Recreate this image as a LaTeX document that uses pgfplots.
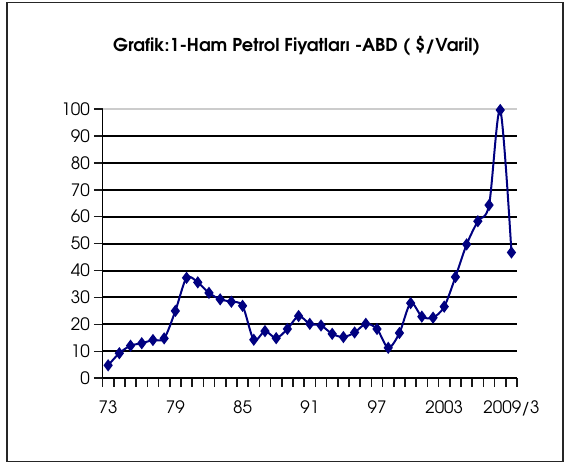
\documentclass[border=0pt]{standalone}
\usepackage{fontspec}
\setmainfont{texgyreadventor}[Extension=.otf,UprightFont=*-regular,BoldFont=*-bold]
\usepackage{pgfplots}
\usepackage{pgfplotstable}
\pgfplotsset{compat=1.18}
\definecolor{navy}{HTML}{000080}

% Ham petrol fiyatlari, $/varil (index, value)
\pgfplotstableread{
i  v
0  4.8
1  9.3
2  12.1
3  13.0
4  14.2
5  14.8
6  25.0
7  37.3
8  35.6
9  31.7
10 29.3
11 28.4
12 26.9
13 14.3
14 17.5
15 14.9
16 18.3
17 23.1
18 20.2
19 19.6
20 16.5
21 15.3
22 17.0
23 20.2
24 18.3
25 11.3
26 16.8
27 27.9
28 22.9
29 22.5
30 26.6
31 37.6
32 49.7
33 58.3
34 64.3
35 99.6
36 46.7
}\prices

\begin{document}
\begin{tikzpicture}
\useasboundingbox (0,0) rectangle (423pt,348pt);
\draw[line width=1.1pt, black!85] (5.25pt,1.7pt) rectangle (422.4pt,346.3pt);
\node[font=\bfseries\fontsize{13.3}{15}\selectfont] at (222.5pt,313.2pt)
  {Grafik:1-Ham Petrol Fiyatları -ABD ( \$/Varil)};
\begin{axis}[
  at={(76.9pt,64.3pt)}, anchor=south west,
  scale only axis, width=310.9pt, height=202pt,
  xmin=-0.5, xmax=36.5, ymin=0, ymax=100,
  axis lines=left, axis line style={-, line width=1.4pt, black},
  tick align=outside, major tick length=0pt, minor tick length=6.5pt,
  tick style={draw=black!90, line width=1.2pt},
  xtick={0,6,...,36},
  xticklabels={73,79,85,91,97,2003,2009/3},
  minor xtick={-0.5,0.5,...,36.5},
  ytick={0,10,...,100}, minor ytick={0,10,...,100},
  ymajorgrids,
  major grid style={black, line width=1.5pt},
  /pgf/number format/assume math mode=true,
  ticklabel style={font=\fontsize{12.8}{14}\selectfont},
  xticklabel style={yshift=-13pt},
  yticklabel style={xshift=-6pt},
]
\draw[white, line width=2.2pt] (rel axis cs:0,1) -- (rel axis cs:1,1);
\draw[gray!40, line width=1pt] (rel axis cs:0,1) -- (rel axis cs:1,1);
\addplot[navy, line width=1.5pt, smooth, mark=diamond*, mark size=3.4pt,
  mark options={solid, fill=navy}] table[x=i, y=v] {\prices};
\end{axis}
\end{tikzpicture}
\end{document}
